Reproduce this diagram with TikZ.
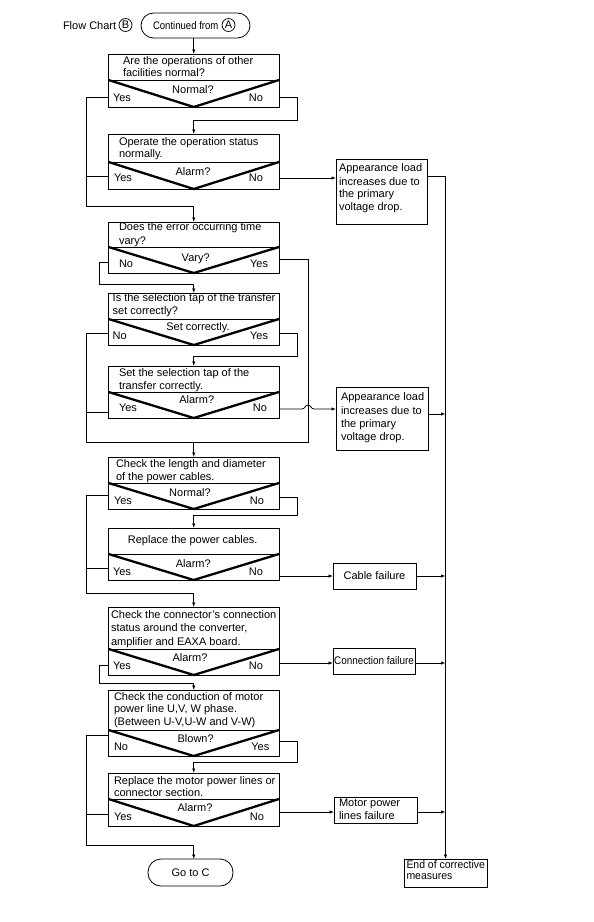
\documentclass[tikz,border=0pt]{standalone}
\usepackage{fontspec}
\setmainfont{Liberation Sans}
\usetikzlibrary{arrows.meta}
\newcommand\decision[4]{%
  \node[box, minimum height={(#3-#2)*1pt}] (#1) at (193.75,{(#2+#3)/2}) {};
  \draw[ln] (#1.west|-0,#4) -- (#1.east|-0,#4);
  \draw[vee] (#1.west|-0,#4) -- (#1.south) -- (#1.east|-0,#4);}
\begin{document}
\begin{tikzpicture}[x=1pt,y=-1pt,
  every node/.style={font=\fontsize{11}{13}\selectfont, inner sep=0pt, outer sep=0pt},
  box/.style={draw, line width=0.8pt, minimum width=170.5pt},
  rbox/.style={draw, line width=0.8pt},
  txt/.style={anchor=base west},
  ctr/.style={anchor=base},
  rgt/.style={anchor=base east},
  ln/.style={line width=0.8pt},
  arr/.style={line width=0.8pt, -{Latex[length=4.5pt,width=3.5pt]}},
  vee/.style={line width=2.3pt}
]
\useasboundingbox (0,0) rectangle (594,922);

% header
\node[txt] (fc) at (63,29) {Flow Chart};
\node[circle, draw, line width=0.7pt, minimum size=13pt] (cB) at (125.5,25) {B};
\node[rbox, rounded corners=12.5pt, minimum width=109pt, minimum height=25pt] (start) at (195.5,25.5) {};
\node[txt] (cf) at (153,29) {\scalebox{0.87}[1]{Continued from}};
\node[circle, draw, line width=0.7pt, minimum size=13pt] (cA) at (228.5,25) {A};

% decision boxes
\decision{b1}{54}{107}{80}
\decision{b2}{134}{189}{162}
\decision{b3}{222}{273}{247}
\decision{b4}{293}{345}{319}
\decision{b5}{366}{418}{392}
\decision{b6}{457}{509}{483}
\decision{b7}{528}{580}{554}
\decision{b8}{607}{675}{649}
\decision{b9}{690}{756}{730}
\decision{b10}{773}{826}{799}

% right boxes
\node[rbox, minimum width=91pt, minimum height=65pt] (ap1) at (381.5,191.5) {};
\node[rbox, minimum width=92pt, minimum height=63pt] (ap2) at (382,418.5) {};
\node[rbox, minimum width=83pt, minimum height=26pt] (cable) at (374.5,576) {Cable failure};
\node[rbox, minimum width=82pt, minimum height=26pt] (conn) at (374,661) {\scalebox{0.9}[1]{Connection failure}};
\node[rbox, minimum width=83pt, minimum height=26pt] (motor) at (375.5,810) {};
\node[rbox, minimum width=83pt, minimum height=28pt] (end) at (445.5,873) {};
\node[rbox, rounded corners=13pt, minimum width=85pt, minimum height=27pt] (goC) at (190.5,872.5) {Go to C};

% texts
\node[txt] (t1a) at (123,64.5) {Are the operations of other};
\node[txt] (t1b) at (123,76.5) {facilities normal?};
\node[ctr] (q1) at (193,93.5) {Normal?};
\node[txt] (y1) at (113,101.5) {Yes};
\node[rgt] (n1) at (263,101.5) {No};

\node[txt] (t2a) at (119,145.2) {Operate the operation status};
\node[txt] (t2b) at (119,157.5) {normally.};
\node[ctr] (q2) at (193,175.2) {Alarm?};
\node[txt] (y2) at (114,181.5) {Yes};
\node[rgt] (n2) at (263,181.5) {No};

\node[txt] (t3a) at (119,230.2) {Does the error occurring time};
\node[txt] (t3b) at (119,244.2) {vary?};
\node[ctr] (q3) at (195.7,261.2) {Vary?};
\node[txt] (n3) at (119,267.5) {No};
\node[rgt] (y3) at (268,267.5) {Yes};

\node[txt] (t4a) at (112.7,301.5) {Is the selection tap of the transfer};
\node[txt] (t4b) at (112.7,314.2) {set correctly?};
\node[ctr] (q4) at (198,330.5) {Set correctly.};
\node[txt] (n4) at (112.7,339.5) {No};
\node[rgt] (y4) at (268,339.5) {Yes};

\node[txt] (t5a) at (119,376.5) {Set the selection tap of the};
\node[txt] (t5b) at (119,389.2) {transfer correctly.};
\node[ctr] (q5) at (196.7,403.5) {Alarm?};
\node[txt] (y5) at (119,411.5) {Yes};
\node[rgt] (n5) at (267,411.5) {No};

\node[txt] (t6a) at (116,467.8) {Check the length and diameter};
\node[txt] (t6b) at (116,480.8) {of the power cables.};
\node[ctr] (q6) at (190,496.2) {Normal?};
\node[txt] (y6) at (114,504.5) {Yes};
\node[rgt] (n6) at (264,504.5) {No};

\node[ctr] (t7a) at (192.7,543.5) {Replace the power cables.};
\node[ctr] (q7) at (193.3,567.5) {Alarm?};
\node[txt] (y7) at (113,575.5) {Yes};
\node[rgt] (n7) at (263,575.5) {No};

\node[txt] (t8a) at (111,618.5) {Check the connector's connection};
\node[txt] (t8b) at (111,631.8) {status around the converter,};
\node[txt] (t8c) at (111,645.2) {amplifier and EAXA board.};
\node[ctr] (q8) at (190,661.8) {Alarm?};
\node[txt] (y8) at (113,669.5) {Yes};
\node[rgt] (n8) at (263,669.5) {No};

\node[txt] (t9a) at (114,700.2) {Check the conduction of motor};
\node[txt] (t9b) at (114,712.5) {power line U,V, W phase.};
\node[txt] (t9c) at (114,725.8) {(Between U-V,U-W and V-W)};
\node[ctr] (q9) at (195.7,742.5) {Blown?};
\node[txt] (n9) at (114,750.2) {No};
\node[rgt] (y9) at (269.3,750.2) {Yes};

\node[txt] (t10a) at (114,784.2) {Replace the motor power lines or};
\node[txt] (t10b) at (114,796.8) {connector section.};
\node[ctr] (q10) at (195,811.8) {Alarm?};
\node[txt] (y10) at (114,820.8) {Yes};
\node[rgt] (n10) at (264,820.8) {No};

\node[txt] (r1a) at (339,171.5) {Appearance load};
\node[txt] (r1b) at (339,185.2) {increases due to};
\node[txt] (r1c) at (339,197.5) {the primary};
\node[txt] (r1d) at (339,210.8) {voltage drop.};

\node[txt] (r2a) at (341,400.5) {Appearance load};
\node[txt] (r2b) at (341,414.5) {increases due to};
\node[txt] (r2c) at (341,427.5) {the primary};
\node[txt] (r2d) at (341,440.5) {voltage drop.};

\node[txt] (m1) at (339,806.5) {Motor power};
\node[txt] (m2) at (339,819.5) {lines failure};

\node[txt] (e1) at (406.5,868.5) {\scalebox{0.95}[1]{End of corrective}};
\node[txt] (e2) at (406.5,879.5) {\scalebox{0.95}[1]{measures}};

% connectors
\draw[arr] (start.south -| b1.north) -- (b1.north);

\draw[arr] (b1.west|-0,97) -- (86,97) |- (b3.north|-0,206) -- (b3.north);
\draw[ln] (b2.west|-0,176) -- (86,176);
\draw[arr] (b1.east|-0,97) -- (297,97) |- (b2.north|-0,120) -- (b2.north);
\draw[arr] (b2.east|-0,178) -- (ap1.west|-0,178);
\draw[arr] (ap1.east|-0,176) -| (end.north);

\draw[arr] (b3.west|-0,262) -- (99,262) |- (b4.north|-0,284) -- (b4.north);
\draw[ln] (b3.east|-0,259) -- (308,259) |- (86,442) |- (b4.west|-0,333);
\draw[ln] (b5.west|-0,412) -- (86,412);
\draw[arr] (b6.north|-0,442) -- (b6.north);
\draw[arr] (b4.east|-0,333) -- (297,333) |- (b5.north|-0,356) -- (b5.north);
\draw[arr] (b5.east|-0,409) -- (302,409) .. controls (305,409) and (305,405) .. (308,405) .. controls (311,405) and (311,409) .. (314,409) -- (ap2.west|-0,409);
\draw[arr] (ap2.east|-0,414) -- (end.north|-0,414);

\draw[arr] (b6.west|-0,495) -- (86,495) |- (b8.north|-0,593) -- (b8.north);
\draw[ln] (b7.west|-0,568) -- (86,568);
\draw[arr] (b6.east|-0,497) -- (297,497) |- (b7.north|-0,515) -- (b7.north);
\draw[arr] (b7.east|-cable.west) -- (cable.west);
\draw[arr] (cable.east) -- (cable.east-|end.north);

\draw[arr] (b8.west|-0,665) -- (99,665) |- (b9.north|-0,683) -- (b9.north);
\draw[arr] (b8.east|-0,663) -- (conn.west|-0,663);
\draw[arr] (conn.east|-0,663) -- (end.north|-0,663);

\draw[arr] (b9.west|-0,735) -- (86,735) |- (b10.south|-0,845) -- (b10.south|-goC.north);
\draw[ln] (b10.west|-0,814) -- (86,814);
\draw[arr] (b9.east|-0,741) -- (297,741) |- (b10.north|-0,762) -- (b10.north);
\draw[arr] (b10.east|-0,812) -- (motor.west|-0,812);
\draw[arr] (motor.east|-0,812) -- (end.north|-0,812);
\end{tikzpicture}
\end{document}
